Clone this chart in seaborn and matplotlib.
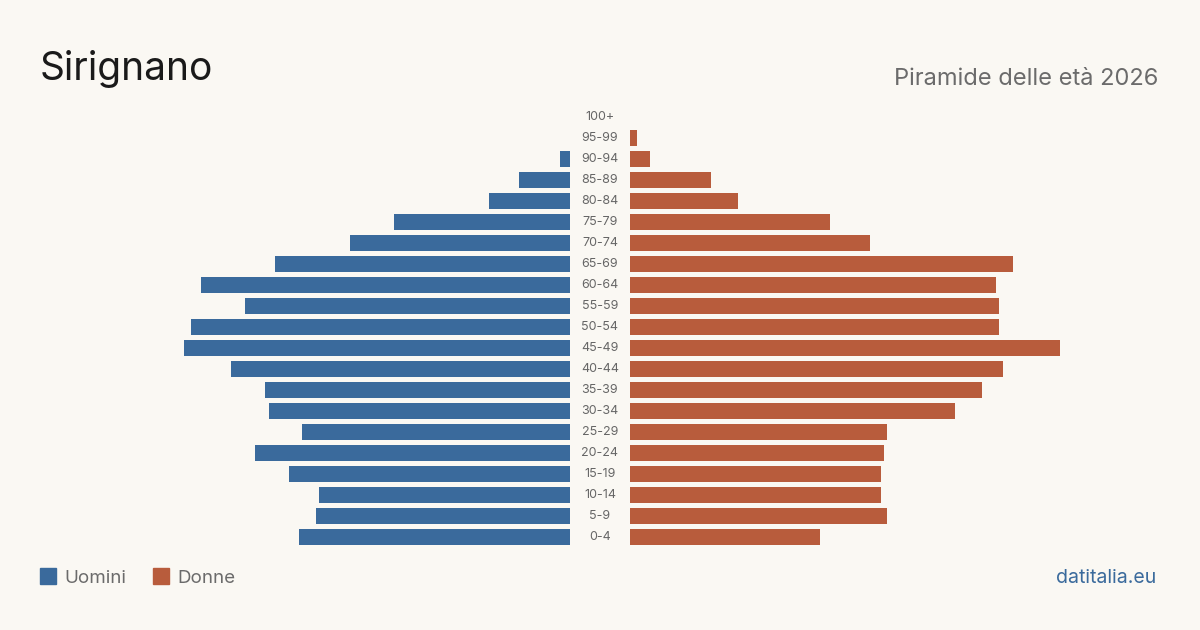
import matplotlib
matplotlib.use("Agg")
import matplotlib.pyplot as plt
import matplotlib.transforms as mtransforms
from matplotlib.patches import Rectangle
import pandas as pd
import seaborn as sns

# %%
age_groups = ["100+", "95-99", "90-94", "85-89", "80-84", "75-79", "70-74",
              "65-69", "60-64", "55-59", "50-54", "45-49", "40-44", "35-39",
              "30-34", "25-29", "20-24", "15-19", "10-14", "5-9", "0-4"]
uomini = [0, 0, 3, 15, 24, 52, 65, 87, 109, 96, 112, 114, 100, 90, 89, 79, 93, 83, 74, 75, 80]
donne = [0, 2, 6, 24, 32, 59, 71, 113, 108, 109, 109, 127, 110, 104, 96, 76, 75, 74, 74, 76, 56]

title = "Sirignano"
subtitle = "Piramide delle età 2026"
source = "datitalia.eu"

blue = "#3a6a9c"
red = "#b85c3c"
bg = "#faf8f3"

df = pd.DataFrame({"age": age_groups, "Uomini": uomini, "Donne": donne})

# %%
sns.set_theme(style="white")
plt.rcParams["font.family"] = ["Inter", "DejaVu Sans"]

fig = plt.figure(figsize=(12, 6.3), dpi=100, facecolor=bg)
bottom = 1 - 547.5 / 630
height = 441 / 630
ax_l = fig.add_axes([40 / 1200, bottom, 530 / 1200, height])
ax_r = fig.add_axes([630 / 1200, bottom, 530 / 1200, height])

sns.barplot(data=df, y="age", x="Uomini", order=age_groups, color=blue,
            width=0.8, saturation=1, linewidth=0, ax=ax_l)
sns.barplot(data=df, y="age", x="Donne", order=age_groups, color=red,
            width=0.8, saturation=1, linewidth=0, ax=ax_r)

xmax = 156.5
ax_l.set_xlim(xmax, 0)
ax_r.set_xlim(0, xmax)
for ax in (ax_l, ax_r):
    ax.set_facecolor(bg)
    ax.set_ylim(len(age_groups) - 0.5, -0.5)
    ax.set_xlabel("")
    ax.set_ylabel("")
    ax.set_xticks([])
    ax.set_yticks([])
    for s in ax.spines.values():
        s.set_visible(False)

trans = mtransforms.blended_transform_factory(fig.transFigure, ax_r.transData)
for i, lab in enumerate(age_groups):
    ax_r.text(600 / 1200, i, lab, transform=trans, ha="center", va="center",
              fontsize=9, color="#666666", clip_on=False)

fig.text(40 / 1200, 1 - 80 / 630, title, fontsize=28, color="#1a1a1a",
         ha="left", va="baseline")
fig.text(1158 / 1200, 1 - 85 / 630, subtitle, fontsize=17, color="#6b6b6b",
         ha="right", va="baseline")
fig.text(1156 / 1200, 1 - 583 / 630, source, fontsize=14, color=blue,
         ha="right", va="baseline")

# legend
for x0, col, lab in [(40, blue, "Uomini"), (153, red, "Donne")]:
    fig.patches.append(Rectangle((x0 / 1200, 1 - 584 / 630), 16 / 1200, 16 / 630,
                                 transform=fig.transFigure, color=col))
    fig.text((x0 + 24) / 1200, 1 - 583 / 630, lab, fontsize=13.5,
             color="#6b6b6b", ha="left", va="baseline")

fig.savefig("out.png", dpi=100, facecolor=bg)
